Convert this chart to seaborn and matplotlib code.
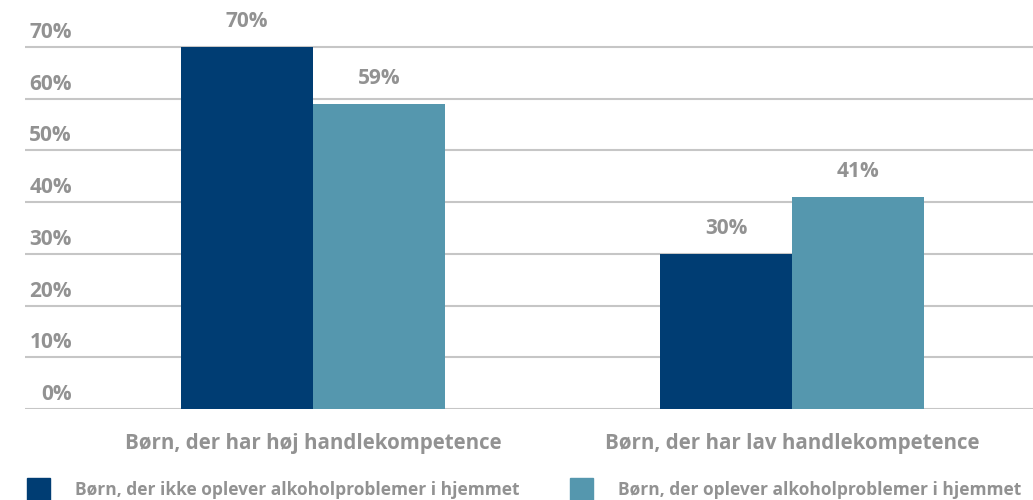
import matplotlib.pyplot as plt
import seaborn as sns
import pandas as pd

# Data
groups = ["Børn, der har høj handlekompetence", "Børn, der har lav handlekompetence"]
series = ["Børn, der ikke oplever alkoholproblemer i hjemmet",
          "Børn, der oplever alkoholproblemer i hjemmet"]
no_problems = [70, 30]
with_problems = [59, 41]
y_ticks = [0, 10, 20, 30, 40, 50, 60, 70]

df = pd.DataFrame({
    "Gruppe": groups * 2,
    "Serie": [series[0]] * 2 + [series[1]] * 2,
    "Andel": no_problems + with_problems,
})

colors = ["#003d73", "#5597ae"]
text_color = "#929292"
grid_color = "#c6c6c6"

sns.set_style("white")
plt.rcParams["font.family"] = ["Open Sans", "DejaVu Sans"]
plt.rcParams["font.weight"] = "bold"

fig = plt.figure(figsize=(10.33, 5.0), dpi=100)
ax = fig.add_axes([25 / 1033, 91 / 500, 1 - 25 / 1033, 399 / 500])

sns.barplot(data=df, x="Gruppe", y="Andel", hue="Serie", palette=colors,
            width=0.55, saturation=1, linewidth=0, ax=ax, legend=False, zorder=3)

ax.set_ylim(0, 77.16)
ax.set_xlim(-0.601, 1.503)

# gridlines
for v in y_ticks:
    ax.axhline(v, color=grid_color, lw=1.5, zorder=1)
ax.set_yticks([])
for s in ax.spines.values():
    s.set_visible(False)

# y labels sit above gridlines, inside the plot
for v in y_ticks:
    ax.annotate(f"{v}%", xy=(0, v), xycoords=("axes fraction", "data"),
                xytext=(47 * 0.72, 6.5), textcoords="offset points",
                ha="right", va="baseline", fontsize=15, color=text_color)

# value labels
for cont in ax.containers:
    ax.bar_label(cont, labels=[f"{int(b.get_height())}%" for b in cont],
                 padding=11, fontsize=15, color=text_color)

ax.set_xlabel("")
ax.set_ylabel("")
ax.tick_params(axis="x", length=0, pad=17, labelsize=14.8, labelcolor=text_color)

# legend sits at the bottom edge and is partly cut, like the source
handles = [plt.Rectangle((0, 0), 1, 1, color=c) for c in colors]
fig.legend(handles, series, loc="upper left", bbox_to_anchor=(27 / 1033, 1 - 478 / 500),
           ncol=2, frameon=False, fontsize=12.5, labelcolor=text_color,
           handlelength=1.32, handleheight=1.55, handletextpad=1.44, columnspacing=2.9,
           borderpad=0, borderaxespad=0)

fig.savefig("out.png", dpi=100)
